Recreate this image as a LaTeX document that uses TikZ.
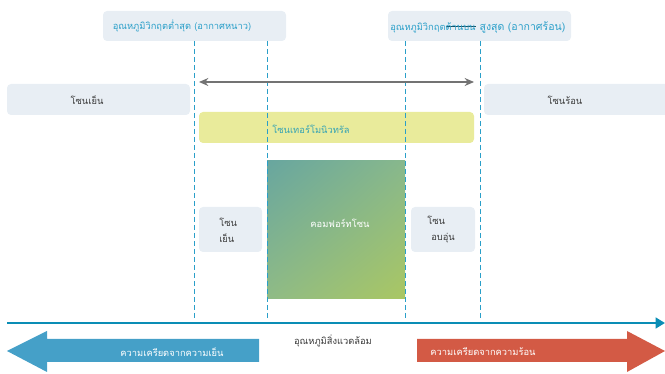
\documentclass[tikz,border=0pt]{standalone}
\usepackage{fontspec}
\newfontfamily\thaifont[Script=Thai]{Loma}
\usetikzlibrary{arrows.meta,shadings}
\definecolor{boxgrey}{HTML}{E8EEF4}
\definecolor{critblue}{HTML}{2A9FC9}
\definecolor{neutyellow}{HTML}{E9EB9B}
\definecolor{neutteal}{HTML}{36A3B4}
\definecolor{axisblue}{HTML}{0A8DB5}
\definecolor{coldblue}{HTML}{45A0C8}
\definecolor{hotred}{HTML}{D35A45}
\definecolor{txtgrey}{HTML}{3A3A3A}
\definecolor{comfUL}{HTML}{68A69F}
\definecolor{comfUR}{HTML}{88B88C}
\definecolor{comfLL}{HTML}{8FBB86}
\definecolor{comfLR}{HTML}{AAC763}
\newcommand\strikeword[1]{\setbox0\hbox{#1}\rlap{\color{critblue!50!black}\rule[2.2pt]{\wd0}{0.5pt}}\box0}
\tikzset{
  lbl/.style={font=\thaifont\fontsize{7}{12}\selectfont, text=txtgrey, inner sep=0pt},
  limit/.style={dashed, dash pattern=on 3.75pt off 2.25pt, critblue, line width=0.75pt},
  panel/.style={fill=boxgrey, rounded corners=3pt}
}
\begin{document}
\begin{tikzpicture}[x=0.75pt,y=-0.75pt]
            \useasboundingbox (0,0) rectangle (665,374);
            % boxes
            \fill [panel] (103,11) rectangle (286,41);
            \fill [panel] (388,11) rectangle (571,41);
            \fill [panel] (7,84) rectangle (190,115);
            \fill [panel] (484,84) rectangle (672,115);
            \fill [neutyellow, rounded corners=3pt] (199,112) rectangle (474,143);
            \fill [panel] (199,207) rectangle (262,252);
            \fill [panel] (411,207) rectangle (475,252);
            \shade [upper left=comfUL, upper right=comfUR,
                    lower left=comfLL, lower right=comfLR]
                    (267,161) rectangle (405,299);
            % critical limits
            \coordinate (L1) at (194,41);  \coordinate (L1b) at (194,320);
            \coordinate (L2) at (267,41);  \coordinate (L2b) at (267,320);
            \coordinate (L3) at (405,41);  \coordinate (L3b) at (405,320);
            \coordinate (L4) at (480,41);  \coordinate (L4b) at (480,320);
            \draw [limit] (L1) -- (L1b);
            \draw [limit] (L2) -- (L2b);
            \draw [limit] (L3) -- (L3b);
            \draw [limit] (L4) -- (L4b);
            % labels
            \node [lbl, text=critblue] (lowcrit) at (182,26) {อุณหภูมิวิกฤตต่ำสุด (อากาศหนาว)};
            \node [lbl, text=critblue, anchor=west] (highcrit) at (390,27) {อุณหภูมิวิกฤต\strikeword{ด้านบน}\hspace{3pt}{\fontsize{7.9}{10}\selectfont สูงสุด (อากาศร้อน)}};
            \node [lbl] (cold) at (87,100) {โซนเย็น};
            \node [lbl] (hot) at (565,100) {โซนร้อน};
            \node [lbl, text=neutteal] (neutral) at (311,129) {โซนเทอร์โมนิวทรัล};
            \node [lbl, text=white] (comfort) at (340,223) {คอมฟอร์ทโซน};
            \node [lbl, anchor=west, align=left] (cool) at (219,230) {โซน\\เย็น};
            \node [lbl, anchor=west, align=left] (warm) at (427,230) {โซน\\\hspace{3pt}อบอุ่น};
            \node [lbl] (ambient) at (333,341) {อุณหภูมิสิ่งแวดล้อม};
            % range arrow
            \coordinate (R1) at (199,82);
            \coordinate (R2) at (474,82);
            \draw [{Stealth[length=7pt,width=6pt]}-{Stealth[length=7pt,width=6pt]}, line width=1.1pt, black!55] (R1) -- (R2);
            % axis
            \coordinate (A1) at (7,323);
            \coordinate (A2) at (665,323);
            \draw [-{Triangle[length=7pt,width=8pt]}, axisblue, line width=2.2pt] (A1) -- (A2);
            % stress arrows
            \fill [coldblue] (7,351) -- (47,331) -- (47,339) -- (259,339) -- (259,362) -- (47,362) -- (47,372) -- cycle;
            \fill [hotred] (665,351) -- (627,331) -- (627,339) -- (417,339) -- (417,362) -- (627,362) -- (627,372) -- cycle;
            \node [lbl, text=white] (coldstress) at (172,352) {ความเครียดจากความเย็น};
            \node [lbl, text=white] (hotstress) at (483,352) {ความเครียดจากความร้อน};
        \end{tikzpicture}
\end{document}
